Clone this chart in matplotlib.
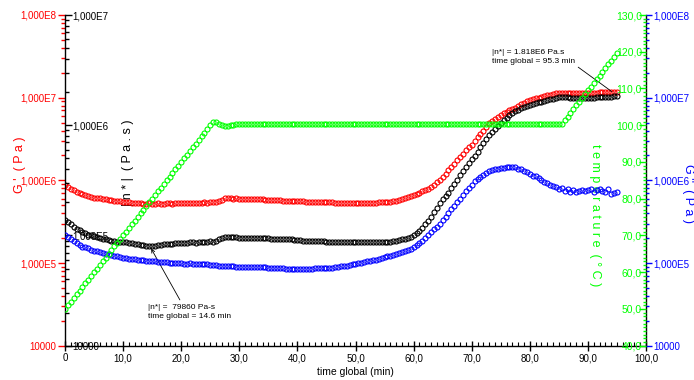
import matplotlib
matplotlib.use("Agg")
import matplotlib.pyplot as plt
import matplotlib.ticker as mticker

plt.rcParams["font.family"] = ["Liberation Sans", "DejaVu Sans"]

RED = "#ff0000"
BLACK = "#000000"
BLUE = "#0000ff"
GREEN = "#00ff00"

# time axis (min), one reading every half minute, 0 .. 95
time_min = [i * 0.5 for i in range(191)]

# G' (Pa) - red
g_prime = [
    8.8e5, 8.4e5, 7.9e5, 7.6e5, 7.2e5, 7.0e5, 6.8e5, 6.7e5, 6.5e5, 6.3e5,
    6.2e5, 6.2e5, 6.1e5, 5.95e5, 5.9e5, 5.85e5, 5.75e5, 5.65e5, 5.55e5, 5.6e5,
    5.5e5, 5.4e5, 5.4e5, 5.3e5, 5.25e5, 5.35e5, 5.3e5, 5.2e5, 5.2e5, 5.25e5,
    5.15e5, 5.2e5, 5.25e5, 5.2e5, 5.2e5, 5.3e5, 5.25e5, 5.2e5, 5.3e5, 5.25e5,
    5.25e5, 5.3e5, 5.35e5, 5.25e5, 5.3e5, 5.35e5, 5.3e5, 5.35e5, 5.4e5, 5.35e5,
    5.45e5, 5.4e5, 5.45e5, 5.6e5, 5.8e5, 6.05e5, 6.1e5, 6.05e5, 6.0e5, 6.05e5,
    6.0e5, 5.95e5, 5.95e5, 6.0e5, 5.95e5, 5.9e5, 5.95e5, 5.9e5, 5.9e5, 5.85e5,
    5.8e5, 5.8e5, 5.75e5, 5.75e5, 5.75e5, 5.7e5, 5.7e5, 5.65e5, 5.6e5, 5.6e5,
    5.6e5, 5.55e5, 5.55e5, 5.5e5, 5.5e5, 5.5e5, 5.5e5, 5.45e5, 5.45e5, 5.4e5,
    5.4e5, 5.4e5, 5.4e5, 5.35e5, 5.35e5, 5.3e5, 5.3e5, 5.3e5, 5.3e5, 5.3e5,
    5.3e5, 5.25e5, 5.3e5, 5.3e5, 5.3e5, 5.3e5, 5.35e5, 5.35e5, 5.4e5, 5.4e5,
    5.45e5, 5.5e5, 5.5e5, 5.6e5, 5.7e5, 5.8e5, 5.95e5, 6.1e5, 6.25e5, 6.4e5,
    6.6e5, 6.85e5, 7.1e5, 7.35e5, 7.6e5, 7.9e5, 8.2e5, 8.8e5, 9.5e5, 1.02e6,
    1.1e6, 1.2e6, 1.32e6, 1.45e6, 1.58e6, 1.74e6, 1.9e6, 2.1e6, 2.3e6, 2.5e6,
    2.7e6, 3.0e6, 3.3e6, 3.65e6, 4.0e6, 4.45e6, 4.9e6, 5.2e6, 5.5e6, 5.85e6,
    6.2e6, 6.5e6, 6.8e6, 7.05e6, 7.3e6, 7.6e6, 7.9e6, 8.3e6, 8.7e6, 9.05e6,
    9.4e6, 9.6e6, 9.8e6, 1.0e7, 1.02e7, 1.05e7, 1.07e7, 1.09e7, 1.11e7, 1.13e7,
    1.14e7, 1.15e7, 1.15e7, 1.15e7, 1.15e7, 1.15e7, 1.15e7, 1.15e7, 1.15e7, 1.15e7,
    1.15e7, 1.15e7, 1.15e7, 1.15e7, 1.16e7, 1.16e7, 1.16e7, 1.165e7, 1.17e7, 1.175e7,
    1.18e7,
]

# |n*| (Pa.s) - black
eta_abs = [
    1.38e5, 1.32e5, 1.26e5, 1.2e5, 1.15e5, 1.11e5, 1.08e5, 1.05e5, 1.02e5, 1.0e5,
    9.8e4, 9.6e4, 9.4e4, 9.3e4, 9.2e4, 9.1e4, 9.0e4, 8.9e4, 8.8e4, 8.8e4,
    8.7e4, 8.65e4, 8.6e4, 8.5e4, 8.4e4, 8.3e4, 8.2e4, 8.15e4, 8.1e4, 8.0e4,
    8.0e4, 8.1e4, 8.2e4, 8.2e4, 8.3e4, 8.3e4, 8.4e4, 8.4e4, 8.5e4, 8.5e4,
    8.6e4, 8.5e4, 8.6e4, 8.7e4, 8.7e4, 8.6e4, 8.7e4, 8.8e4, 8.8e4, 8.8e4,
    8.9e4, 8.8e4, 8.9e4, 9.2e4, 9.5e4, 9.7e4, 9.7e4, 9.6e4, 9.6e4, 9.6e4,
    9.5e4, 9.5e4, 9.5e4, 9.55e4, 9.5e4, 9.5e4, 9.5e4, 9.45e4, 9.4e4, 9.4e4,
    9.4e4, 9.35e4, 9.3e4, 9.3e4, 9.3e4, 9.25e4, 9.2e4, 9.2e4, 9.2e4, 9.15e4,
    9.1e4, 9.05e4, 9.0e4, 9.0e4, 9.0e4, 8.95e4, 8.9e4, 8.9e4, 8.9e4, 8.85e4,
    8.8e4, 8.8e4, 8.8e4, 8.8e4, 8.8e4, 8.75e4, 8.7e4, 8.7e4, 8.7e4, 8.7e4,
    8.7e4, 8.7e4, 8.7e4, 8.7e4, 8.7e4, 8.7e4, 8.7e4, 8.7e4, 8.7e4, 8.7e4,
    8.7e4, 8.75e4, 8.8e4, 8.9e4, 9.0e4, 9.1e4, 9.2e4, 9.35e4, 9.5e4, 9.75e4,
    1.0e5, 1.05e5, 1.1e5, 1.18e5, 1.26e5, 1.36e5, 1.48e5, 1.62e5, 1.78e5, 1.95e5,
    2.14e5, 2.3e5, 2.45e5, 2.7e5, 2.95e5, 3.2e5, 3.5e5, 3.85e5, 4.2e5, 4.55e5,
    4.9e5, 5.3e5, 5.75e5, 6.3e5, 6.9e5, 7.5e5, 8.1e5, 8.7e5, 9.3e5, 9.9e5,
    1.05e6, 1.11e6, 1.17e6, 1.23e6, 1.29e6, 1.34e6, 1.38e6, 1.42e6, 1.46e6, 1.5e6,
    1.53e6, 1.56e6, 1.58e6, 1.61e6, 1.64e6, 1.67e6, 1.69e6, 1.72e6, 1.74e6, 1.77e6,
    1.79e6, 1.8e6, 1.8e6, 1.79e6, 1.78e6, 1.78e6, 1.78e6, 1.78e6, 1.78e6, 1.78e6,
    1.78e6, 1.78e6, 1.78e6, 1.79e6, 1.8e6, 1.8e6, 1.81e6, 1.815e6, 1.82e6, 1.825e6,
    1.83e6,
]

# G'' (Pa) - blue
g_double = [
    2.18e5, 2.05e5, 1.95e5, 1.85e5, 1.74e5, 1.66e5, 1.58e5, 1.55e5, 1.5e5, 1.45e5,
    1.41e5, 1.38e5, 1.36e5, 1.32e5, 1.3e5, 1.28e5, 1.26e5, 1.22e5, 1.2e5, 1.18e5,
    1.16e5, 1.15e5, 1.13e5, 1.12e5, 1.11e5, 1.1e5, 1.08e5, 1.08e5, 1.07e5, 1.06e5,
    1.05e5, 1.06e5, 1.04e5, 1.03e5, 1.02e5, 1.03e5, 1.01e5, 1.0e5, 1.0e5, 1.01e5,
    9.9e4, 9.85e4, 9.8e4, 9.9e4, 9.8e4, 9.75e4, 9.7e4, 9.8e4, 9.7e4, 9.6e4,
    9.55e4, 9.5e4, 9.4e4, 9.3e4, 9.2e4, 9.15e4, 9.1e4, 9.15e4, 9.1e4, 9.05e4,
    9.0e4, 9.05e4, 9.0e4, 8.95e4, 8.95e4, 9.0e4, 8.95e4, 8.9e4, 8.9e4, 8.85e4,
    8.8e4, 8.75e4, 8.7e4, 8.65e4, 8.6e4, 8.6e4, 8.55e4, 8.5e4, 8.5e4, 8.5e4,
    8.5e4, 8.45e4, 8.5e4, 8.5e4, 8.55e4, 8.55e4, 8.6e4, 8.6e4, 8.65e4, 8.7e4,
    8.7e4, 8.75e4, 8.8e4, 8.9e4, 9.0e4, 9.1e4, 9.2e4, 9.3e4, 9.45e4, 9.6e4,
    9.8e4, 9.95e4, 1.01e5, 1.03e5, 1.05e5, 1.06e5, 1.08e5, 1.1e5, 1.12e5, 1.14e5,
    1.17e5, 1.2e5, 1.23e5, 1.26e5, 1.29e5, 1.32e5, 1.35e5, 1.39e5, 1.43e5, 1.48e5,
    1.55e5, 1.64e5, 1.74e5, 1.86e5, 2.0e5, 2.17e5, 2.35e5, 2.55e5, 2.75e5, 3.0e5,
    3.3e5, 3.65e5, 4.0e5, 4.45e5, 4.9e5, 5.4e5, 6.0e5, 6.7e5, 7.4e5, 8.1e5,
    8.9e5, 9.7e5, 1.05e6, 1.11e6, 1.17e6, 1.23e6, 1.29e6, 1.33e6, 1.36e6, 1.39e6,
    1.41e6, 1.43e6, 1.45e6, 1.46e6, 1.46e6, 1.44e6, 1.39e6, 1.36e6, 1.3e6, 1.27e6,
    1.19e6, 1.14e6, 1.12e6, 1.06e6, 1.02e6, 9.6e5, 9.4e5, 8.9e5, 8.6e5, 8.3e5,
    7.8e5, 8.0e5, 7.5e5, 7.8e5, 7.2e5, 7.6e5, 7.3e5, 7.5e5, 7.7e5, 7.4e5,
    7.6e5, 7.8e5, 7.3e5, 7.7e5, 7.8e5, 7.5e5, 7.2e5, 7.9e5, 6.8e5, 7.0e5,
    7.3e5,
]

# temperature (°C) - green
temperature = [
    50.0, 51.0, 52.0, 53.0, 54.0, 55.0, 56.0, 57.0, 58.0, 59.0,
    60.0, 61.0, 62.0, 63.0, 64.0, 65.0, 66.0, 67.0, 68.0, 69.0,
    70.0, 71.0, 72.0, 73.0, 74.0, 75.0, 76.0, 77.0, 78.0, 79.0,
    80.0, 81.0, 82.0, 83.0, 84.0, 85.0, 86.0, 87.0, 88.0, 89.0,
    90.0, 91.0, 92.0, 93.0, 94.0, 95.0, 96.0, 97.0, 98.0, 99.0,
    100.0, 101.0, 100.9, 100.4, 100.0, 99.8, 99.8, 100.0, 100.1, 100.2,
    100.3, 100.3, 100.3, 100.3, 100.3, 100.3, 100.3, 100.3, 100.3, 100.3,
    100.3, 100.3, 100.3, 100.3, 100.3, 100.3, 100.3, 100.3, 100.3, 100.3,
    100.3, 100.3, 100.3, 100.3, 100.3, 100.3, 100.3, 100.3, 100.3, 100.3,
    100.3, 100.3, 100.3, 100.3, 100.3, 100.3, 100.3, 100.3, 100.3, 100.3,
    100.3, 100.3, 100.3, 100.3, 100.3, 100.3, 100.3, 100.3, 100.3, 100.3,
    100.3, 100.3, 100.3, 100.3, 100.3, 100.3, 100.3, 100.3, 100.3, 100.3,
    100.3, 100.3, 100.3, 100.3, 100.3, 100.3, 100.3, 100.3, 100.3, 100.3,
    100.3, 100.3, 100.3, 100.3, 100.3, 100.3, 100.3, 100.3, 100.3, 100.3,
    100.3, 100.3, 100.3, 100.3, 100.3, 100.3, 100.3, 100.3, 100.3, 100.3,
    100.3, 100.3, 100.3, 100.3, 100.3, 100.3, 100.3, 100.3, 100.3, 100.3,
    100.3, 100.3, 100.3, 100.3, 100.3, 100.3, 100.3, 100.3, 100.3, 100.3,
    100.3, 100.3, 101.3, 102.3, 103.3, 104.4, 105.4, 106.4, 107.4, 108.5,
    109.5, 110.5, 111.5, 112.5, 113.5, 114.6, 115.6, 116.6, 117.6, 118.6,
    119.6,
]

# axis ticks / labels
x_ticks = [0, 10, 20, 30, 40, 50, 60, 70, 80, 90, 100]
x_labels = ["0", "10,0", "20,0", "30,0", "40,0", "50,0", "60,0", "70,0", "80,0", "90,0", "100,0"]
mod_ticks = [1e4, 1e5, 1e6, 1e7, 1e8]
mod_labels = ["10000", "1,000E5", "1,000E6", "1,000E7", "1,000E8"]
eta_ticks = [1e4, 1e5, 1e6, 1e7]
eta_labels = ["10000", "1,000E5", "1,000E6", "1,000E7"]
temp_ticks = [40, 50, 60, 70, 80, 90, 100, 110, 120, 130]
temp_labels = ["40,0", "50,0", "60,0", "70,0", "80,0", "90,0", "100,0", "110,0", "120,0", "130,0"]

# cursor annotations on |n*|
annot_time = [14.6, 95.3]
annot_eta = [79860, 1.818e6]
annot_text = [
    "|n*| =  79860 Pa-s\ntime global = 14.6 min",
    "|n*| = 1.818E6 Pa.s\ntime global = 95.3 min",
]

W, H = 694, 380
fig = plt.figure(figsize=(W / 100, H / 100), dpi=100)
ax = fig.add_axes([65 / W, 1 - 345.7 / H, (646 - 65) / W, (345.7 - 15) / H])

marker_kw = dict(ls="none", marker="o", mfc="none", ms=3.6, mew=0.8)

# G' on the main axes (left, outer)
ax.set_xlim(0, 100)
ax.set_yscale("log")
ax.set_ylim(1e4, 1e8)
ax.plot(time_min, g_prime, mec=RED, zorder=2, **marker_kw)
ax.set_yticks(mod_ticks)
ax.set_yticklabels(mod_labels)
ax.yaxis.set_minor_formatter(mticker.NullFormatter())
ax.tick_params(axis="y", which="major", colors=RED, direction="out", length=5, width=1, labelsize=7, pad=1.5)
ax.tick_params(axis="y", which="minor", colors=RED, direction="out", length=3, width=1)
ax.set_xticks(x_ticks)
ax.set_xticklabels(x_labels)
ax.xaxis.set_minor_locator(mticker.MultipleLocator(1))
ax.tick_params(axis="x", which="major", direction="inout", length=7, width=1, labelsize=7, pad=2)
ax.tick_params(axis="x", which="minor", direction="in", length=3, width=0.8)
ax.spines["top"].set_visible(False)
for s in ("left", "bottom", "right"):
    ax.spines[s].set_color("black")
    ax.spines[s].set_linewidth(1)

# |n*| on the left spine, labels inside
ax_k = ax.twinx()
ax_k.set_yscale("log")
ax_k.set_ylim(1e4, 1e7)
ax_k.plot(time_min, eta_abs, mec=BLACK, **marker_kw)
ax_k.yaxis.tick_left()
ax_k.set_yticks(eta_ticks)
ax_k.set_yticklabels(eta_labels)
ax_k.yaxis.set_minor_formatter(mticker.NullFormatter())
ax_k.tick_params(axis="y", which="major", colors=BLACK, direction="in", length=5, width=1, labelsize=7, pad=-5)
ax_k.tick_params(axis="y", which="minor", colors=BLACK, direction="in", length=3, width=1)
plt.setp(ax_k.get_yticklabels(), ha="left")
for s in ax_k.spines.values():
    s.set_visible(False)

# G'' on the right, outer
ax_b = ax.twinx()
ax_b.set_yscale("log")
ax_b.set_ylim(1e4, 1e8)
ax_b.plot(time_min, g_double, mec=BLUE, **marker_kw)
ax_b.set_yticks(mod_ticks)
ax_b.set_yticklabels(mod_labels)
ax_b.yaxis.set_minor_formatter(mticker.NullFormatter())
ax_b.tick_params(axis="y", which="major", colors=BLUE, direction="out", length=4, width=1, labelsize=7, pad=1.5)
ax_b.tick_params(axis="y", which="minor", colors=BLUE, direction="out", length=2.5, width=1)
for s in ax_b.spines.values():
    s.set_visible(False)

# temperature on the right, labels inside
ax_g = ax.twinx()
ax_g.set_ylim(40, 130)
ax_g.plot(time_min, temperature, mec=GREEN, **marker_kw)
ax_g.set_yticks(temp_ticks)
ax_g.set_yticklabels(temp_labels)
ax_g.yaxis.set_minor_locator(mticker.MultipleLocator(1))
ax_g.tick_params(axis="y", which="major", colors=GREEN, direction="in", length=5, width=1, labelsize=7.5, pad=-3)
ax_g.tick_params(axis="y", which="minor", colors=GREEN, direction="in", length=2.5, width=1)
plt.setp(ax_g.get_yticklabels(), ha="right")
for s in ax_g.spines.values():
    s.set_visible(False)

# cursor annotations
ax_k.annotate(annot_text[0], xy=(annot_time[0], annot_eta[0]), xytext=(-1.3, -41.5),
              textcoords="offset points", ha="left", va="top", fontsize=6, linespacing=1.35,
              arrowprops=dict(arrowstyle="->", color="black", lw=0.6, relpos=(0.41, 1),
                              shrinkA=1, shrinkB=2))
ax_k.annotate(annot_text[1], xy=(annot_time[1], annot_eta[1]), xytext=(-91, 34),
              textcoords="offset points", ha="left", va="top", fontsize=6, linespacing=1.35,
              arrowprops=dict(arrowstyle="-", color="black", lw=0.6, relpos=(1, 0),
                              shrinkA=0, shrinkB=6))

# axis titles (letter spaced, as in the source software)
ax.text(20 / W, 1 - 165 / H, "G '  ( P a )", transform=fig.transFigure, rotation=90,
        color=RED, fontsize=9, ha="center", va="center", zorder=1)
ax.text(128 / W, 1 - 163 / H, "| n * |  ( P a . s )", transform=fig.transFigure, rotation=90,
        color=BLACK, fontsize=9, ha="center", va="center", zorder=1)
ax.text(595 / W, 1 - 215 / H, "t e m p e r a t u r e  ( ° C )", transform=fig.transFigure,
        rotation=270, color=GREEN, fontsize=9, ha="center", va="center", zorder=1)
fig.text(688 / W, 1 - 193 / H, "G ''  ( P a )", rotation=270, color=BLUE, fontsize=9,
         ha="center", va="center")
fig.text(355.5 / W, 1 - 371.7 / H, "time global (min)", fontsize=7.5, ha="center", va="center")

fig.savefig("out.png", dpi=100)
